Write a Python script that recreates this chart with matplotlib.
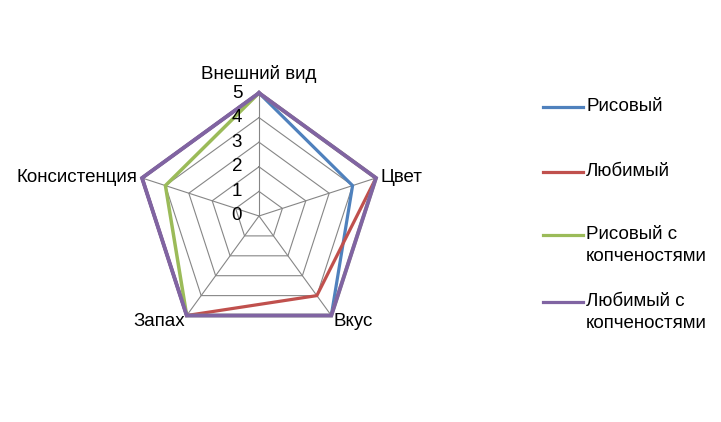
import numpy as np
import matplotlib.pyplot as plt
from matplotlib.lines import Line2D

categories = ['Внешний вид', 'Цвет', 'Вкус', 'Запах', 'Консистенция']
series_names = ['Рисовый', 'Любимый', 'Рисовый с\nкопченостями', 'Любимый с\nкопченостями']
ricey = [5, 4, 5, 5, 5]
favorite = [5, 5, 4, 5, 5]
ricey_smoked = [5, 5, 5, 5, 4]
favorite_smoked = [5, 5, 5, 5, 5]
ticks = [0, 1, 2, 3, 4, 5]

colors = ['#4F81BD', '#C0504D', '#9BBB59', '#8064A2']
font = 'Liberation Sans'

W, H = 721, 422
fig = plt.figure(figsize=(W / 100, H / 100), dpi=100)
cx, cy, R = 259, 216, 123
ax = fig.add_axes([(cx - R) / W, (H - cy - R) / H, 2 * R / W, 2 * R / H], projection='polar')
ax.set_theta_offset(np.pi / 2)
ax.set_theta_direction(-1)
ax.set_ylim(0, 5)
ax.axis('off')

n = len(categories)
angles = np.linspace(0, 2 * np.pi, n, endpoint=False)
closed = np.append(angles, angles[0])

# grid rings and spokes
for t in ticks[1:]:
    ax.plot(closed, [t] * (n + 1), color='#868686', lw=0.8, clip_on=False, zorder=1)
for a in angles:
    ax.plot([a, a], [0, ticks[-1]], color='#868686', lw=0.8, zorder=1)

data = [ricey, favorite, ricey_smoked, favorite_smoked]
widths = [2.3, 2.3, 2.5, 2.8]
for vals, c, w in zip(data, colors, widths):
    ax.plot(closed, vals + vals[:1], color=c, lw=w, clip_on=False, zorder=3,
            solid_joinstyle='miter')

# tick labels left of the vertical axis
for t in ticks:
    ax.annotate(str(t), xy=(0, t), xytext=(-22, 0), textcoords='offset pixels',
                ha='center', va='center', fontsize=13.5, family=font, zorder=4)

# category labels
offsets = [(0, 19, 'center', 'center'), (5, 0, 'left', 'center'),
           (2, -6, 'left', 'center'), (-2, -6, 'right', 'center'),
           (-5, 0, 'right', 'center')]
for a, lab, (dx, dy, ha, va) in zip(angles, categories, offsets):
    ax.annotate(lab, xy=(a, 5), xytext=(dx, dy), textcoords='offset pixels',
                ha=ha, va=va, fontsize=13.5, family=font)

# legend
leg_y = [107, 172, 235, 302]
for name, c, y in zip(series_names, colors, leg_y):
    fig.add_artist(Line2D([543 / W, 583 / W], [1 - y / H] * 2, color=c, lw=2.3))
    fig.text(586 / W, 1 - (y - 9) / H, name, ha='left', va='top', fontsize=13.5,
             family=font, linespacing=1.4)

fig.savefig('out.png', dpi=100)
